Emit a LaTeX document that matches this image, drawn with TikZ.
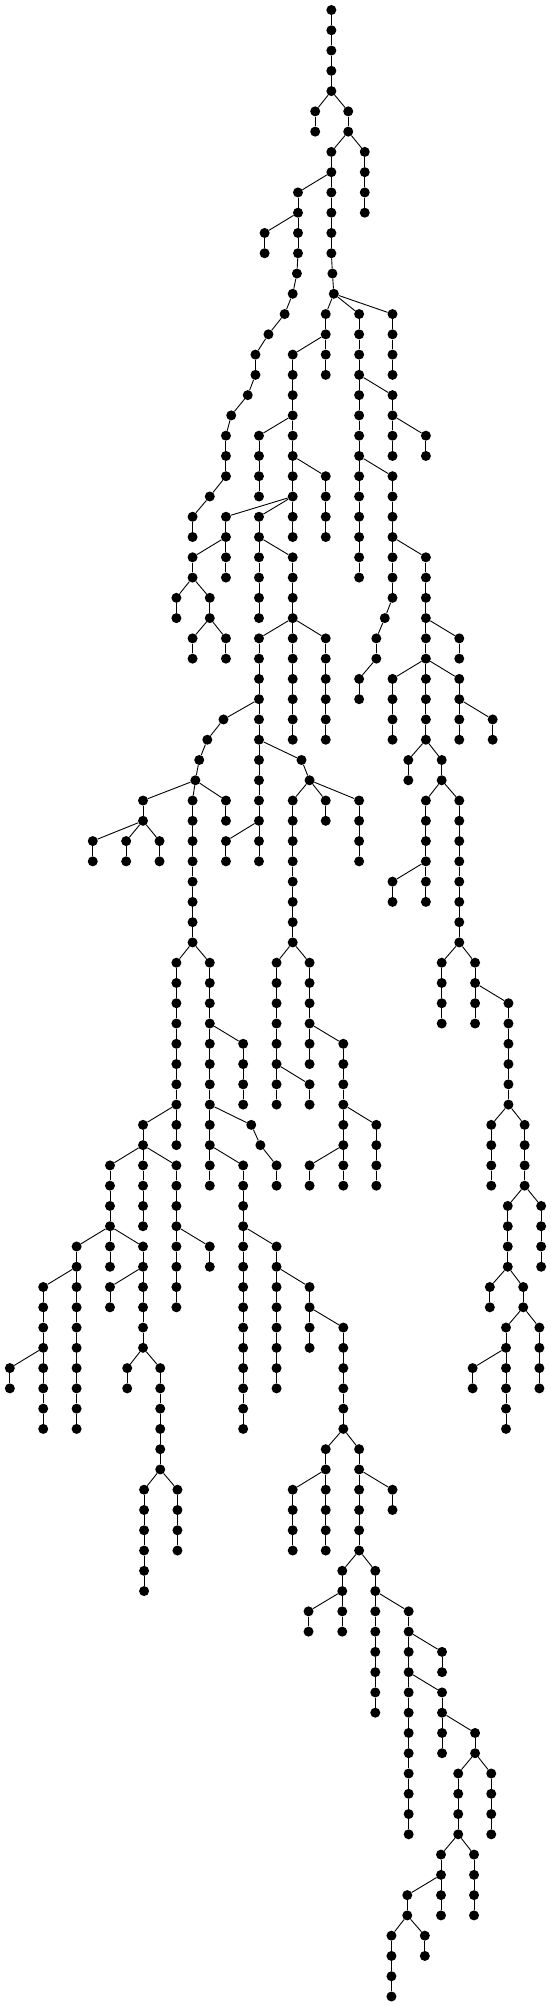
\documentclass[tikz,border=0pt]{standalone}
\usepackage{tikz}
\tikzset{dotn/.style={circle,fill=black,draw=none,inner sep=0pt,minimum size=10pt},
lnk/.style={line width=0.9pt,black}}
\newcommand\chn[3]{%
  \pgfmathtruncatemacro\chS{#2+1}%
  \foreach \lv in {\chS,...,#3}{%
    \pgfmathtruncatemacro\chP{\lv-1}%
    \node[dotn] (v#1L\lv) at (#1,\lv) {};%
    \draw[lnk] (v#1L\chP) -- (v#1L\lv);%
  }}
\newcommand\brn[3]{%
  \pgfmathtruncatemacro\chP{#2-1}%
  \node[dotn] (v#1L#2) at (#1,#2) {};%
  \draw[lnk] (v#3L\chP) -- (v#1L#2);}
\begin{document}
\begin{tikzpicture}
\useasboundingbox (0pt,0pt) rectangle (551pt,-2006pt);
\begin{scope}[yshift=-10pt,x=0.3514pt,y=-20.27pt]
\node[dotn] (v943L0) at (943,0) {};
\chn{943}{0}{4}
\brn{897}{5}{943} \chn{897}{5}{6}
\brn{991}{5}{943} \chn{991}{5}{6}
\brn{943}{7}{991} \chn{943}{7}{12}
\brn{1038}{7}{991} \chn{1038}{7}{10}
\brn{946}{13}{943} \brn{950}{14}{946}
\brn{848}{9}{943} \chn{848}{9}{12}
\brn{753}{11}{848} \chn{753}{11}{12}
\brn{845}{13}{848} \brn{833}{14}{845} \brn{810}{15}{833} \brn{764}{16}{810}
\brn{727}{17}{764} \chn{727}{17}{18} \brn{705}{19}{727} \brn{658}{20}{705}
\brn{643}{21}{658} \chn{643}{21}{23} \brn{597}{24}{643} \brn{548}{25}{597} \chn{548}{25}{26}
\brn{927}{15}{950} \chn{927}{15}{18}
\brn{833}{17}{927} \chn{833}{17}{24}
\brn{737}{21}{833} \chn{737}{21}{24}
\brn{927}{23}{833} \chn{927}{23}{26}
\brn{643}{25}{833} \chn{643}{25}{28}
\brn{737}{25}{833} \chn{737}{25}{30}
\brn{833}{25}{833} \chn{833}{25}{26}
\brn{548}{27}{643} \chn{548}{27}{28}
\brn{502}{29}{548} \chn{502}{29}{30}
\brn{597}{29}{548} \chn{597}{29}{30}
\brn{548}{31}{597} \chn{548}{31}{32}
\brn{643}{31}{597} \chn{643}{31}{32}
\brn{833}{27}{737} \chn{833}{27}{30}
\brn{737}{31}{833} \chn{737}{31}{42}
\brn{833}{31}{833} \chn{833}{31}{36}
\brn{927}{31}{833} \chn{927}{31}{36}
\brn{636}{35}{737} \brn{590}{36}{636} \brn{567}{37}{590} \brn{556}{38}{567}
\brn{858}{37}{737} \brn{881}{38}{858}
\brn{643}{41}{737} \chn{643}{41}{42}
\brn{407}{39}{556} \chn{407}{39}{40}
\brn{548}{39}{556} \chn{548}{39}{46}
\brn{643}{39}{556} \chn{643}{39}{40}
\brn{264}{41}{407} \chn{264}{41}{42}
\brn{359}{41}{407} \chn{359}{41}{42}
\brn{454}{41}{407} \chn{454}{41}{42}
\brn{833}{39}{881} \chn{833}{39}{46}
\brn{927}{39}{881} \chn{927}{39}{40}
\brn{1022}{39}{881} \chn{1022}{39}{42}
\brn{502}{47}{548} \chn{502}{47}{56}
\brn{597}{47}{548} \chn{597}{47}{58}
\brn{692}{51}{597} \chn{692}{51}{54}
\brn{715}{55}{597} \brn{741}{56}{715} \brn{787}{57}{741} \chn{787}{57}{58}
\brn{692}{57}{597} \chn{692}{57}{70}
\brn{787}{61}{692} \chn{787}{61}{68}
\brn{881}{63}{787} \chn{881}{63}{66}
\brn{977}{65}{881} \chn{977}{65}{70}
\brn{927}{71}{977} \chn{927}{71}{76}
\brn{833}{73}{927} \chn{833}{73}{76}
\brn{1022}{71}{977} \chn{1022}{71}{76}
\brn{1117}{73}{1022} \chn{1117}{73}{74}
\brn{974}{77}{1022} \chn{974}{77}{80}
\brn{878}{79}{974} \chn{878}{79}{80}
\brn{1068}{77}{1022} \chn{1068}{77}{84}
\brn{1163}{79}{1068} \chn{1163}{79}{90}
\brn{1258}{81}{1163} \chn{1258}{81}{82}
\brn{1258}{83}{1163} \chn{1258}{83}{86}
\brn{1352}{85}{1258} \chn{1352}{85}{86}
\brn{1304}{87}{1352} \chn{1304}{87}{90}
\brn{1398}{87}{1352} \chn{1398}{87}{90}
\brn{1255}{91}{1304} \chn{1255}{91}{94}
\brn{1349}{91}{1304} \chn{1349}{91}{94}
\brn{1159}{93}{1255} \chn{1159}{93}{94}
\brn{1114}{95}{1159} \chn{1114}{95}{98}
\brn{1209}{95}{1159} \chn{1209}{95}{96}
\brn{407}{55}{502} \chn{407}{55}{56}
\brn{313}{57}{407} \chn{313}{57}{62}
\brn{407}{57}{407} \chn{407}{57}{60}
\brn{502}{57}{407} \chn{502}{57}{64}
\brn{597}{61}{502} \chn{597}{61}{62}
\brn{218}{61}{313} \chn{218}{61}{70}
\brn{123}{63}{218} \chn{123}{63}{70}
\brn{28}{67}{123} \chn{28}{67}{68}
\brn{407}{61}{313} \chn{407}{61}{66}
\brn{313}{63}{407} \chn{313}{63}{64}
\brn{362}{67}{407} \chn{362}{67}{68}
\brn{456}{67}{407} \chn{456}{67}{72}
\brn{410}{73}{456} \chn{410}{73}{78}
\brn{505}{73}{456} \chn{505}{73}{76}
\brn{787}{47}{833} \chn{787}{47}{54}
\brn{881}{53}{787} \chn{881}{53}{54}
\brn{881}{47}{833} \chn{881}{47}{52}
\brn{977}{51}{881} \chn{977}{51}{58}
\brn{1071}{55}{977} \chn{1071}{55}{58}
\brn{881}{57}{977} \chn{881}{57}{58}
\brn{1022}{15}{950} \chn{1022}{15}{28}
\brn{1117}{15}{950} \chn{1117}{15}{18}
\brn{1117}{19}{1022} \chn{1117}{19}{22}
\brn{1212}{21}{1117} \chn{1212}{21}{22}
\brn{1117}{23}{1022} \chn{1117}{23}{29}
\brn{1095}{30}{1117} \brn{1071}{31}{1095} \chn{1071}{31}{32}
\brn{1022}{33}{1071} \chn{1022}{33}{34}
\brn{1212}{27}{1117} \chn{1212}{27}{36}
\brn{1307}{31}{1212} \chn{1307}{31}{32}
\brn{1117}{33}{1212} \chn{1117}{33}{36}
\brn{1307}{33}{1212} \chn{1307}{33}{36}
\brn{1402}{35}{1307} \chn{1402}{35}{36}
\brn{1162}{37}{1212} \chn{1162}{37}{38}
\brn{1257}{37}{1212} \chn{1257}{37}{38}
\brn{1212}{39}{1257} \chn{1212}{39}{44}
\brn{1117}{43}{1212} \chn{1117}{43}{44}
\brn{1307}{39}{1257} \chn{1307}{39}{46}
\brn{1257}{47}{1307} \chn{1257}{47}{50}
\brn{1352}{47}{1307} \chn{1352}{47}{50}
\brn{1447}{49}{1352} \chn{1447}{49}{54}
\brn{1398}{55}{1447} \chn{1398}{55}{58}
\brn{1493}{55}{1447} \chn{1493}{55}{58}
\brn{1445}{59}{1493} \chn{1445}{59}{62}
\brn{1540}{59}{1493} \chn{1540}{59}{62}
\brn{1394}{63}{1445} \chn{1394}{63}{64}
\brn{1489}{63}{1445} \chn{1489}{63}{64}
\brn{1440}{65}{1489} \chn{1440}{65}{70}
\brn{1535}{65}{1489} \chn{1535}{65}{68}
\brn{1345}{67}{1440} \chn{1345}{67}{68}
\end{scope}
\end{tikzpicture}
\end{document}
